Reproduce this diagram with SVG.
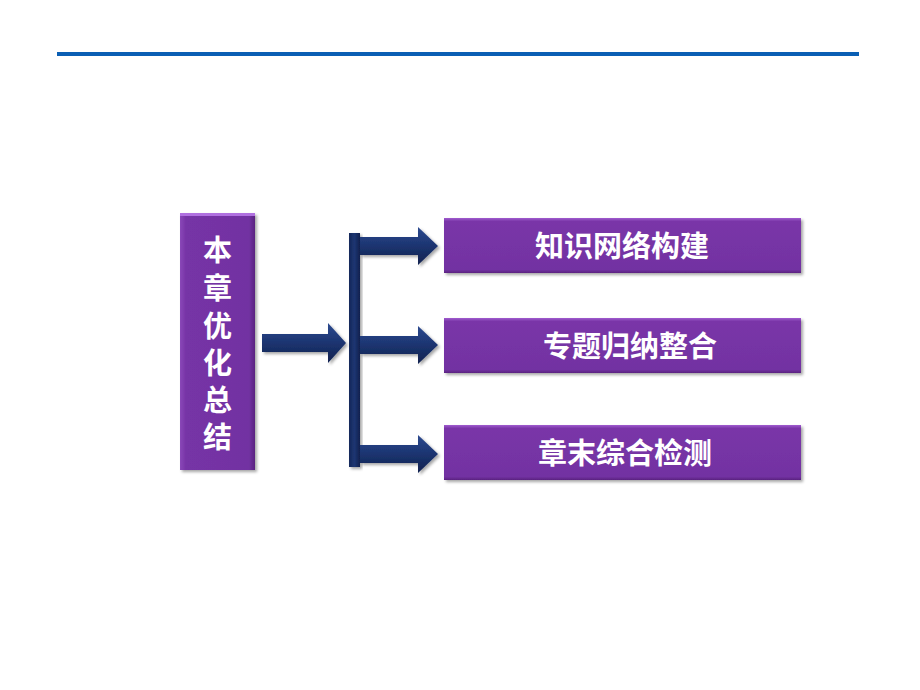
<svg xmlns="http://www.w3.org/2000/svg" width="920" height="690" viewBox="0 0 920 690">
<defs>
<linearGradient id="pv" x1="0" y1="0" x2="0" y2="1">
<stop offset="0" stop-color="#a05cd0"/>
<stop offset="0.06" stop-color="#7a36a8"/>
<stop offset="0.94" stop-color="#7232a2"/>
<stop offset="1" stop-color="#5a2280"/>
</linearGradient>
<linearGradient id="ph" x1="0" y1="0" x2="1" y2="0">
<stop offset="0" stop-color="#8a48b8"/>
<stop offset="0.08" stop-color="#7634a6"/>
<stop offset="0.92" stop-color="#7232a2"/>
<stop offset="1" stop-color="#5a2280"/>
</linearGradient>
<linearGradient id="nv" x1="0" y1="0" x2="0" y2="1">
<stop offset="0" stop-color="#2c4a90"/>
<stop offset="0.5" stop-color="#1c3470"/>
<stop offset="1" stop-color="#10224e"/>
</linearGradient>
<linearGradient id="nh" x1="0" y1="0" x2="1" y2="0">
<stop offset="0" stop-color="#14285a"/>
<stop offset="0.5" stop-color="#1e3672"/>
<stop offset="1" stop-color="#10224e"/>
</linearGradient>
<filter id="sh" x="-10%" y="-10%" width="130%" height="130%">
<feDropShadow dx="2" dy="2" stdDeviation="1.5" flood-color="#000" flood-opacity="0.35"/>
</filter>
</defs>
<style>
.box{fill:url(#pv);filter:url(#sh);}
.lbl{font-family:"Liberation Sans","Noto Sans CJK SC",sans-serif;font-weight:bold;fill:#fff;font-size:29px;text-anchor:middle;}
.arr{fill:url(#nv);filter:url(#sh);}
</style>
<rect x="57" y="52" width="802" height="4" fill="#0a5fb4"/>
<g id="node-summary">
<rect class="box" x="180" y="213" width="75" height="257" style="fill:url(#ph)"/>
<rect x="180" y="213" width="75" height="3" fill="#b070e0"/>
<text class="lbl" x="217.5" y="261">本</text>
<text class="lbl" x="217.5" y="299">章</text>
<text class="lbl" x="217.5" y="337">优</text>
<text class="lbl" x="217.5" y="374">化</text>
<text class="lbl" x="217.5" y="411">总</text>
<text class="lbl" x="217.5" y="448">结</text>
</g>
<g id="node-1">
<rect class="box" x="444" y="218" width="357" height="55"/>
<text class="lbl" x="622" y="257">知识网络构建</text>
</g>
<g id="node-2">
<rect class="box" x="444" y="318" width="357" height="55"/>
<text class="lbl" x="630" y="357">专题归纳整合</text>
</g>
<g id="node-3">
<rect class="box" x="444" y="425" width="357" height="55"/>
<text class="lbl" x="625" y="464">章末综合检测</text>
</g>
<g id="connectors">
<path class="arr" d="M262,334 H328 V323 L346,343 L328,363 V352 H262 Z"/>
<rect x="349" y="233" width="11" height="234" fill="url(#nh)" filter="url(#sh)"/>
<path class="arr" d="M360,237 H418 V227 L438,246 L418,265 V255 H360 Z"/>
<path class="arr" d="M360,336 H418 V326 L438,345 L418,364 V354 H360 Z"/>
<path class="arr" d="M360,445 H418 V435 L438,454 L418,473 V463 H360 Z"/>
</g>
</svg>
